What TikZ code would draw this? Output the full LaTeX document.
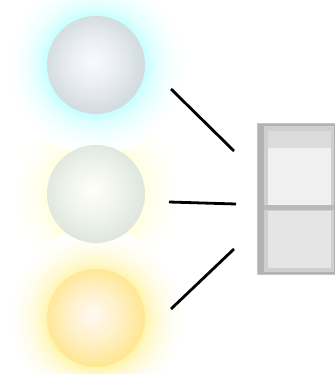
\documentclass[tikz,border=0pt]{standalone}
\colorlet{hc}{white}\colorlet{bi}{white}\colorlet{bo}{white}
\pgfdeclareradialshading[hc]{halo}{\pgfpoint{0bp}{0bp}}{color(0bp)=(hc); color(13.8bp)=(hc); color(16bp)=(hc!60!white); color(19bp)=(hc!30!white); color(22bp)=(hc!10!white); color(25bp)=(white); color(50bp)=(white)}
\pgfdeclareradialshading[bi,bo]{ball}{\pgfpoint{-2bp}{2bp}}{color(0bp)=(bi); color(12bp)=(bi!60!bo); color(25bp)=(bo); color(50bp)=(bo)}
\begin{document}
\begin{tikzpicture}[x=1pt,y=-1pt,
  spoke/.style={line width=2.8pt, black},
  bulb/.style={circle, minimum size=98pt, inner sep=0pt}]
\useasboundingbox (0,0) rectangle (334,374);
\fill[white] (0,0) rectangle (334,374);
% halos
\colorlet{hc}{yellow!12!white}
\shade[shading=halo] (96,194) circle (89);
\colorlet{hc}{orange!25!yellow!32!white}
\shade[shading=halo] (96,318) circle (89);
\colorlet{hc}{cyan!22!white}
\shade[shading=halo] (96,65) circle (89);
% balls
\colorlet{bi}{blue!2!white}\colorlet{bo}{blue!25!cyan!15!gray!30!white}
\node[bulb, shading=ball] (cold) at (96,65) {};
\colorlet{bi}{white!97!yellow}\colorlet{bo}{green!15!gray!22!white}
\node[bulb, shading=ball] (neutral) at (96,194) {};
\colorlet{bi}{orange!5!white}\colorlet{bo}{orange!45!yellow!42!white}
\node[bulb, shading=ball] (warm) at (96,318) {};
% switch
\node[draw=gray!45, fill=gray!60, minimum width=84pt, minimum height=151pt, anchor=north west, inner sep=0pt, line width=0.8pt] (switch) at (257,123) {};
\fill[gray!38] (264,126) rectangle (334,272);
\fill[gray!28] (268,131) rectangle (331,149);
\node[fill=gray!12, minimum width=63pt, minimum height=57pt, anchor=north west, inner sep=0pt] (upper) at (268,148) {};
\fill[gray!55] (264,205) rectangle (334,210);
\node[fill=gray!20, minimum width=63pt, minimum height=57pt, anchor=north west, inner sep=0pt] (lower) at (268,211) {};
% spokes
\coordinate (a1) at (171,89); \coordinate (a2) at (234,151);
\coordinate (b1) at (169,202); \coordinate (b2) at (236,204);
\coordinate (c1) at (171,309); \coordinate (c2) at (234,249);
\draw[spoke] (a1) -- (a2);
\draw[spoke] (b1) -- (b2);
\draw[spoke] (c1) -- (c2);
\end{tikzpicture}
\end{document}
